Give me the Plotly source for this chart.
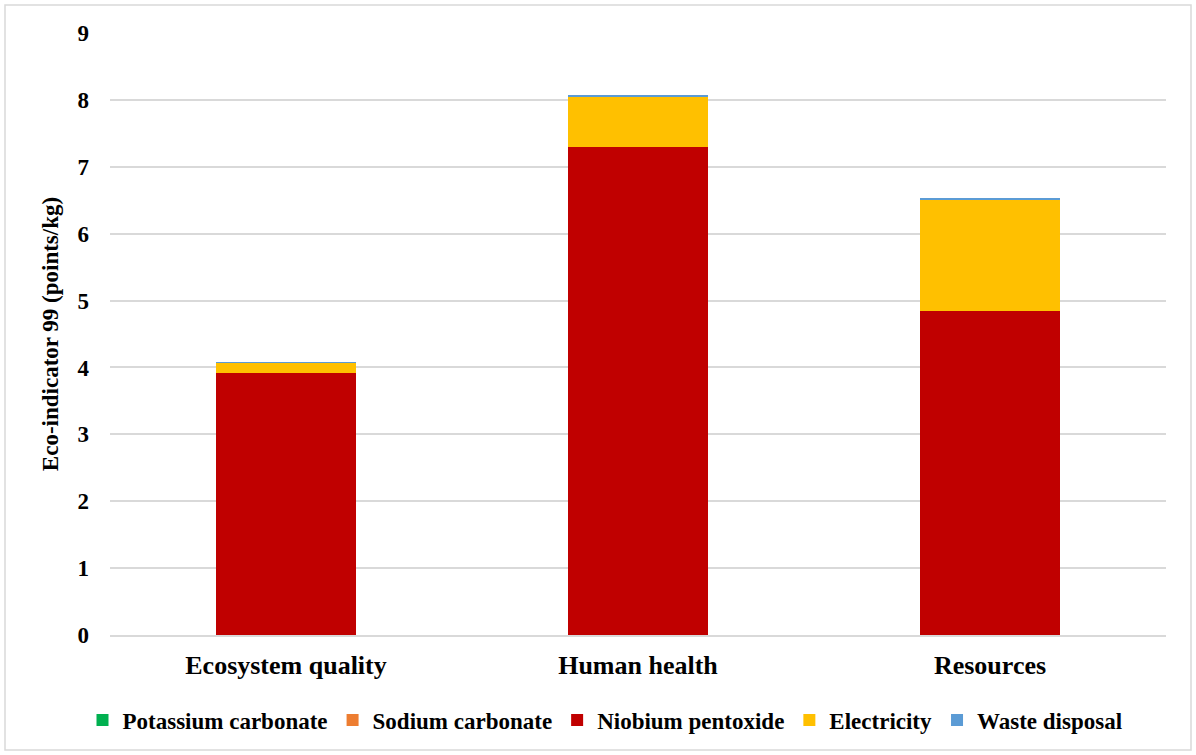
import plotly.graph_objects as go

categories = ["Ecosystem quality", "Human health", "Resources"]
series_names = ["Potassium carbonate", "Sodium carbonate", "Niobium pentoxide", "Electricity", "Waste disposal"]
potassium = [0.002, 0.002, 0.002]
sodium = [0.002, 0.002, 0.002]
niobium = [3.92, 7.29, 4.84]
electricity = [0.145, 0.755, 1.67]
waste = [0.012, 0.012, 0.012]
y_ticks = [0, 1, 2, 3, 4, 5, 6, 7, 8, 9]

colors = ["#00B050", "#ED7D31", "#C00000", "#FFC000", "#5B9BD5"]
values = [potassium, sodium, niobium, electricity, waste]

FONT = "Liberation Serif"
fig = go.Figure()
for name, vals, col in zip(series_names, values, colors):
    fig.add_trace(go.Bar(x=categories, y=vals, name=name, marker=dict(color=col, line=dict(width=0))))

W, H = 1196, 755
L, R, T, B = 110, 30, 33, 120
pw, ph = W - L - R, H - T - B

fig.update_layout(
    width=W, height=H, autosize=False,
    barmode="stack", bargap=0.6,
    plot_bgcolor="white", paper_bgcolor="white",
    margin=dict(l=L, r=R, t=T, b=B),
    font=dict(family=FONT, color="black", weight="bold"),
    legend=dict(orientation="h", x=(605 - L) / pw, xanchor="center", y=(T + ph - 720) / ph, yanchor="middle",
                font=dict(size=23, family=FONT, weight="bold"), traceorder="normal",
                itemwidth=30, tracegroupgap=0),
    xaxis=dict(showgrid=False, showline=True, linecolor="#D9D9D9", linewidth=1.5,
               tickfont=dict(size=26, family=FONT, weight="bold"), ticks="", ticklabelstandoff=6),
    yaxis=dict(range=[0, 9], tickvals=y_ticks, showgrid=True, gridcolor="#D9D9D9", gridwidth=1.5,
               zeroline=False, showline=False,
               tickfont=dict(size=23, family=FONT, weight="bold"), ticklabelstandoff=20,
               title=dict(text="Eco-indicator 99 (points/kg)", font=dict(size=23, family=FONT, weight="bold"), standoff=12)),
    shapes=[dict(type="rect", xref="paper", yref="paper",
                 x0=(5 - L) / pw, x1=(1191 - L) / pw, y0=(T + ph - 750) / ph, y1=(T + ph - 5) / ph,
                 line=dict(color="#D9D9D9", width=1.5), fillcolor="rgba(0,0,0,0)", layer="below")],
)

fig.write_html("out.html", config={"displayModeBar": False},
               post_script="document.body.style.margin='0';document.body.style.overflow='hidden';")
